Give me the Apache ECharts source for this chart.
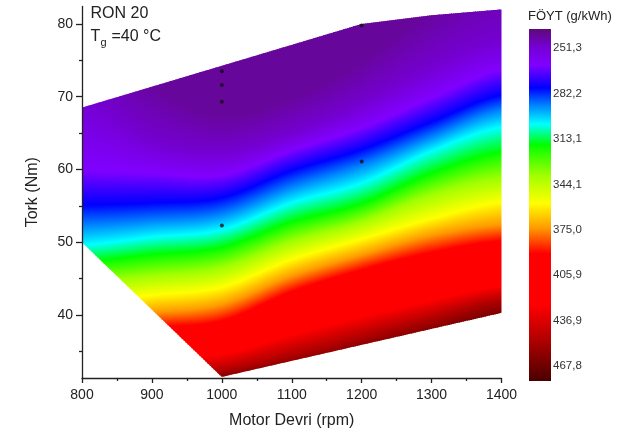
<!DOCTYPE html>
<html>
<head>
<meta charset="utf-8">
<script src="https://cdn.jsdelivr.net/npm/echarts@6/dist/echarts.min.js"></script>
<style>
  html, body { margin: 0; padding: 0; background: #fff; }
  #chart { width: 630px; height: 437px; }
</style>
</head>
<body>
<div id="chart"></div>
<script>
// engine speed columns where iso-lines were read (rpm)
const RPM = [800, 900, 1000, 1100, 1200, 1300, 1400];

// BSFC levels (g/kWh) and the torque (Nm) where each level sits at every RPM column
const LEVELS = [243, 250, 263, 278.5, 290, 303, 317, 338, 357, 374, 391, 426, 450, 478];
const ISO_243 = [80, 72, 67.5, 70, 75, 82, 88];
const ISO_250 = [70, 64, 62.5, 65, 69, 74, 78];
const ISO_263 = [59.9, 59.5, 59.2, 62.6, 65.7, 69.8, 73.7];
const ISO_278 = [55.1, 55.4, 56.1, 59.8, 62.7, 66.5, 70.2];
const ISO_290 = [52.4, 53, 53.9, 57.6, 60.6, 64.5, 68.2];
const ISO_303 = [49.6, 50.7, 51.7, 55.4, 58.1, 62.5, 65.8];
const ISO_317 = [47.3, 48.3, 49.3, 52.8, 55.3, 59.5, 62.4];
const ISO_338 = [44.5, 45.4, 46.5, 50.1, 52.8, 56.5, 58.8];
const ISO_357 = [41.6, 42.7, 43.8, 47.6, 50.4, 53.2, 55.5];
const ISO_374 = [39.3, 40.3, 41.4, 45.3, 48.2, 50.9, 52.4];
const ISO_391 = [37.4, 38.3, 39.2, 43.2, 46.2, 48.6, 50.2];
const ISO_426 = [33, 34, 34.6, 37.3, 39.8, 42, 44];
const ISO_450 = [31, 32, 32.4, 34.5, 37, 39.5, 42];
const ISO_478 = [29, 30, 30.4, 31.5, 33.5, 36, 38.5];
const ISO = [ISO_243, ISO_250, ISO_263, ISO_278, ISO_290, ISO_303, ISO_317,
             ISO_338, ISO_357, ISO_374, ISO_391, ISO_426, ISO_450, ISO_478];

// measured envelope of the map
const TOP_RPM = [800, 1200, 1300, 1400];
const TOP_T = [68.5, 80, 81.2, 82];
const BOT_RPM = [800, 1000, 1400];
const BOT_T = [50, 31.5, 40.3];

// measurement points
const DOT_RPM = [1000, 1000, 1000, 1000, 1200, 1200];
const DOT_T = [73.5, 71.6, 69.3, 52.3, 79.8, 61.1];

// colour scale
const PAL_VALUES = [238.4, 250, 263, 278.5, 290, 303, 317, 338, 357, 374, 391, 426, 450, 477.9];
const PAL_COLORS = ['#5e0a78', '#7400d0', '#8000ff', '#0000ff', '#0080ff', '#00ffff', '#00ff00',
                    '#a0ff00', '#ffff00', '#ff9900', '#ff0000', '#ff0000', '#b00000', '#4a0000'];
const BAR_TICKS = [251.3, 282.2, 313.1, 344.1, 375.0, 405.9, 436.9, 467.8];

const FONT = 'Arial, "Liberation Sans", sans-serif';

function hexRgb(h) {
  return [parseInt(h.slice(1, 3), 16), parseInt(h.slice(3, 5), 16), parseInt(h.slice(5, 7), 16)];
}
function colorAt(v) {
  if (v <= PAL_VALUES[0]) return PAL_COLORS[0];
  for (let i = 1; i < PAL_VALUES.length; i++) {
    if (v <= PAL_VALUES[i]) {
      const f = (v - PAL_VALUES[i - 1]) / (PAL_VALUES[i] - PAL_VALUES[i - 1]);
      const a = hexRgb(PAL_COLORS[i - 1]), b = hexRgb(PAL_COLORS[i]);
      const c = a.map((x, k) => Math.round(x + (b[k] - x) * f));
      return 'rgb(' + c.join(',') + ')';
    }
  }
  return PAL_COLORS[PAL_COLORS.length - 1];
}
function onPath(xs, ys, x) {
  for (let i = 1; i < xs.length; i++) {
    if (x <= xs[i]) return ys[i - 1] + (ys[i] - ys[i - 1]) * (x - xs[i - 1]) / (xs[i] - xs[i - 1]);
  }
  return ys[ys.length - 1];
}
// smooth curve through the read iso-line points (Catmull-Rom)
function smooth(arr, i, f) {
  const p0 = arr[Math.max(0, i - 1)], p1 = arr[i], p2 = arr[i + 1], p3 = arr[Math.min(arr.length - 1, i + 2)];
  return 0.5 * (2 * p1 + (-p0 + p2) * f + (2 * p0 - 5 * p1 + 4 * p2 - p3) * f * f + (-p0 + 3 * p1 - 3 * p2 + p3) * f * f * f);
}

function renderField(params, api) {
  const i = api.value(1);
  const a = RPM[i], b = RPM[i + 1];
  const pa = api.coord([a, 50])[0], pb = api.coord([b, 50])[0];
  const n = Math.ceil((pb - pa) / 2);
  const gy0 = api.coord([800, 95])[1], gy1 = api.coord([800, 20])[1];
  const children = [];
  for (let j = 0; j < n; j++) {
    const r0 = a + (b - a) * j / n, r1 = a + (b - a) * (j + 1) / n;
    const rc = (r0 + r1) / 2, f = (rc - a) / (b - a);
    const t0 = api.coord([r0, onPath(TOP_RPM, TOP_T, r0)]);
    const t1 = api.coord([r1, onPath(TOP_RPM, TOP_T, r1)]);
    const b0 = api.coord([r0, onPath(BOT_RPM, BOT_T, r0)]);
    const b1 = api.coord([r1, onPath(BOT_RPM, BOT_T, r1)]);
    const el = (i === 0 && j === 0) ? 0 : 0.6;
    const er = (i === RPM.length - 2 && j === n - 1) ? 0 : 0.6;
    let last = 0;
    const stops = LEVELS.map((v, k) => {
      const t = smooth(ISO[k], i, f);
      const y = api.coord([rc, t])[1];
      last = Math.max(last, Math.min(1, Math.max(0, (y - gy0) / (gy1 - gy0))));
      return { offset: last, color: colorAt(v) };
    });
    children.push({
      type: 'polygon',
      shape: { points: [[t0[0] - el, t0[1]], [t1[0] + er, t1[1]], [b1[0] + er, b1[1]], [b0[0] - el, b0[1]]] },
      style: {
        fill: { type: 'linear', x: 0, y: gy0, x2: 0, y2: gy1, global: true, colorStops: stops },
        stroke: null
      }
    });
  }
  return { type: 'group', children: children };
}

function renderBar(params, api) {
  const cs = params.coordSys;
  const y0 = cs.y, y1 = cs.y + cs.height;
  const stops = PAL_VALUES.map((v, k) => {
    const y = api.coord([0.5, v])[1];
    return { offset: Math.min(1, Math.max(0, (y - y0) / (y1 - y0))), color: PAL_COLORS[k] };
  });
  return {
    type: 'rect',
    shape: { x: cs.x, y: y0, width: cs.width, height: cs.height },
    style: { fill: { type: 'linear', x: 0, y: y0, x2: 0, y2: y1, global: true, colorStops: stops } }
  };
}

const chart = echarts.init(document.getElementById('chart'), null, { renderer: 'canvas' });

const option = {
  animation: false,
  backgroundColor: '#ffffff',
  textStyle: { fontFamily: FONT },
  grid: [
    { left: 82, top: 6.5, width: 419.5, height: 371.5 },
    { left: 529, top: 29, width: 22, height: 352 }
  ],
  xAxis: [
    {
      gridIndex: 0, type: 'value', min: 800, max: 1400, interval: 100, z: 10,
      name: 'Motor Devri (rpm)', nameLocation: 'middle', nameGap: 35,
      nameTextStyle: { fontSize: 16, color: '#222', fontFamily: FONT },
      axisLine: { lineStyle: { color: '#222', width: 1.3 } },
      axisTick: { length: 5, lineStyle: { color: '#222', width: 1.3 } },
      minorTick: { show: true, splitNumber: 2, length: 3, lineStyle: { color: '#222', width: 1.3 } },
      axisLabel: { fontSize: 14, color: '#222', margin: 10, fontFamily: FONT, formatter: v => String(v) },
      splitLine: { show: false }
    },
    { gridIndex: 1, type: 'value', min: 0, max: 1, show: false }
  ],
  yAxis: [
    {
      gridIndex: 0, type: 'value', min: 31.34, max: 82.4, z: 10, position: 'left',
      name: 'Tork (Nm)', nameLocation: 'middle', nameGap: 41,
      nameTextStyle: { fontSize: 16, color: '#222', fontFamily: FONT },
      axisLine: { show: true, lineStyle: { color: '#222', width: 1.3 } },
      axisTick: { show: true, length: 6, customValues: [40, 50, 60, 70, 80], lineStyle: { color: '#222', width: 1.3 } },
      axisLabel: { fontSize: 14, color: '#222', margin: 9, customValues: [40, 50, 60, 70, 80], fontFamily: FONT },
      splitLine: { show: false }
    },
    {
      gridIndex: 0, type: 'value', min: 31.34, max: 82.4, z: 10, position: 'left', offset: 0,
      axisLine: { show: false },
      axisTick: { show: true, length: 3, customValues: [35, 45, 55, 65, 75], lineStyle: { color: '#222', width: 1.3 } },
      axisLabel: { show: false },
      splitLine: { show: false }
    },
    {
      gridIndex: 1, type: 'value', min: 238.4, max: 477.9, inverse: true, position: 'right',
      axisLine: { show: false }, axisTick: { show: false }, splitLine: { show: false },
      axisLabel: {
        fontSize: 11.5, color: '#333', margin: 2, fontFamily: FONT,
        customValues: BAR_TICKS,
        formatter: v => v.toFixed(1).replace('.', ',')
      }
    }
  ],
  series: [
    {
      type: 'custom', xAxisIndex: 0, yAxisIndex: 0, renderItem: renderField,
      data: RPM.slice(0, -1).map((r, i) => [r, i]), silent: true, z: 2
    },
    {
      type: 'scatter', xAxisIndex: 0, yAxisIndex: 0, symbolSize: 4, z: 5, silent: true,
      itemStyle: { color: '#111' },
      data: DOT_RPM.map((r, i) => [r, DOT_T[i]])
    },
    {
      type: 'custom', xAxisIndex: 1, yAxisIndex: 2, renderItem: renderBar,
      data: [[0.5, 300]], silent: true
    }
  ],
  graphic: [
    { type: 'text', left: 90.5, top: 6, style: { text: 'RON 20', font: '16px ' + FONT, fill: '#222' } },
    { type: 'text', left: 90.5, top: 29, style: { text: 'T', font: '16px ' + FONT, fill: '#222' } },
    { type: 'text', left: 100.5, top: 37, style: { text: 'g', font: '11px ' + FONT, fill: '#222' } },
    { type: 'text', left: 111.5, top: 29, style: { text: '=40 °C', font: '16px ' + FONT, fill: '#222' } },
    { type: 'text', left: 528, top: 10, style: { text: 'FÖYT (g/kWh)', font: '13px ' + FONT, fill: '#222' } }
  ]
};

chart.setOption(option);
</script>
</body>
</html>
